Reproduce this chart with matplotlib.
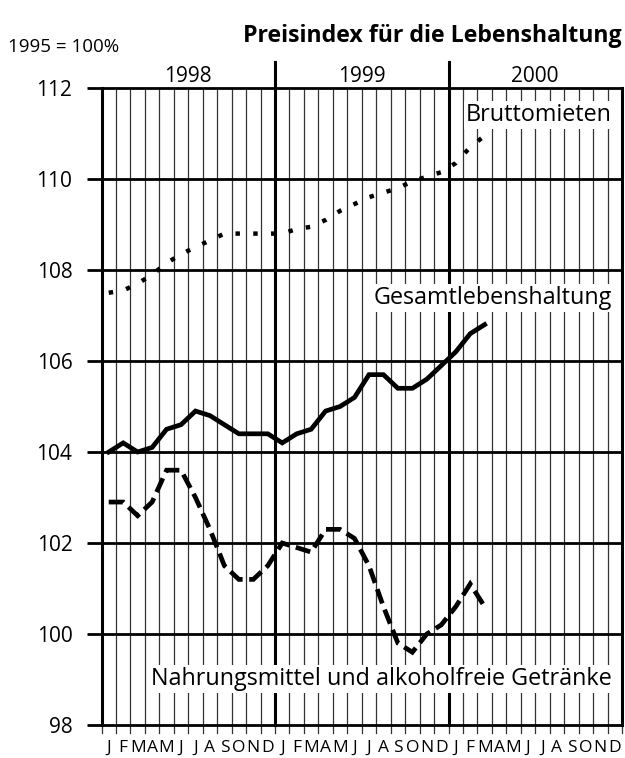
import matplotlib
matplotlib.use("Agg")
import matplotlib.pyplot as plt
import numpy as np

plt.rcParams['font.family'] = ['Open Sans', 'DejaVu Sans']

# ---- data ----
years = ["1998", "1999", "2000"]
month_letters = list("JFMAMJJASOND") * 3
brutto = [107.5, 107.55, 107.7, 107.9, 108.15, 108.35, 108.5, 108.65, 108.8, 108.8, 108.8, 108.8,
          108.8, 108.9, 108.95, 109.1, 109.3, 109.45, 109.6, 109.7, 109.8, 109.95, 110.05, 110.15,
          110.35, 110.7, 110.95]
gesamt = [104.0, 104.2, 104.0, 104.1, 104.5, 104.6, 104.9, 104.8, 104.6, 104.4, 104.4, 104.4,
          104.2, 104.4, 104.5, 104.9, 105.0, 105.2, 105.7, 105.7, 105.4, 105.4, 105.6, 105.9,
          106.2, 106.6, 106.8]
nahrung = [102.9, 102.9, 102.6, 102.9, 103.6, 103.6, 103.0, 102.3, 101.5, 101.2, 101.2, 101.5,
           102.0, 101.9, 101.8, 102.3, 102.3, 102.1, 101.5, 100.6, 99.8, 99.6, 100.0, 100.2,
           100.6, 101.1, 100.6]
yticks = [98, 100, 102, 104, 106, 108, 110, 112]

W, H = 625, 758
fig = plt.figure(figsize=(W / 100, H / 100), dpi=100)
x0, x1, ytop, ybot = 101.5, 622.0, 88.0, 725.0
ax = fig.add_axes([x0 / W, 1 - ybot / H, (x1 - x0) / W, (ybot - ytop) / H])
ax.set_xlim(0, 36)
ax.set_ylim(98, 112)
for s in ax.spines.values():
    s.set_visible(False)

pxx = 36 / (x1 - x0)
pxy = 14 / (ybot - ytop)

# vertical month lines and ticks below
for b in range(0, 37):
    ax.plot([b, b], [98 - 8 * pxy, 98], color='#333333', lw=0.9, clip_on=False, zorder=1)
    if b % 12 == 0:
        top = 112 + 26 * pxy if b in (12, 24) else 112
        ax.plot([b, b], [98, top], color='black', lw=2.2, clip_on=False, zorder=2)
    else:
        ax.plot([b, b], [98, 112], color='#333333', lw=0.9, zorder=1)

# horizontal grid lines
for yv in yticks:
    ax.plot([-15 * pxx, 36], [yv, yv], color='black', lw=2.0, clip_on=False, zorder=2,
            solid_capstyle='butt')

xs = np.arange(len(gesamt)) + 0.5
ax.plot(xs, brutto, color='black', lw=3.2, linestyle=(0, (1, 3.0)), zorder=5,
        dash_capstyle='butt')
ax.plot(xs, gesamt, color='black', lw=3.4, zorder=5, solid_joinstyle='miter')
ax.plot(xs, nahrung, color='black', lw=3.4, linestyle=(0, (3.2, 1.4)), zorder=5,
        dash_joinstyle='miter')

# series labels
lab_x = 36 - 10 * pxx
bbox = dict(facecolor='white', edgecolor='none', pad=1.5)
ax.text(lab_x, 112 - 27 * pxy, "Bruttomieten", ha='right', va='center', fontsize=16.8,
        bbox=bbox, zorder=4)
ax.text(lab_x, 112 - 210 * pxy, "Gesamtlebenshaltung", ha='right', va='center', fontsize=16.8,
        bbox=bbox, zorder=4)
ax.text(lab_x, 112 - 591 * pxy, "Nahrungsmittel und alkoholfreie Getränke", ha='right',
        va='center', fontsize=16.8, bbox=bbox, zorder=4)

# year labels
for i, yr in enumerate(years):
    ax.text(12 * i + 6, 112 + 12 * pxy, yr, ha='center', va='center', fontsize=15)

# axis ticks
ax.set_yticks(yticks)
ax.set_yticklabels([str(v) for v in yticks], fontsize=15)
ax.tick_params(axis='y', length=0, pad=21)
ax.set_xticks(np.arange(36) + 0.5)
ax.set_xticklabels(month_letters, fontsize=12.5)
ax.tick_params(axis='x', length=0, pad=11)

fig.text(622 / W, 1 - 36 / H, "Preisindex für die Lebenshaltung", ha='right', va='center',
         fontsize=16.7, fontweight='bold')
fig.text(8 / W, 1 - 47 / H, "1995 = 100%", ha='left', va='center', fontsize=13.5)

fig.savefig("out.png", dpi=100)
